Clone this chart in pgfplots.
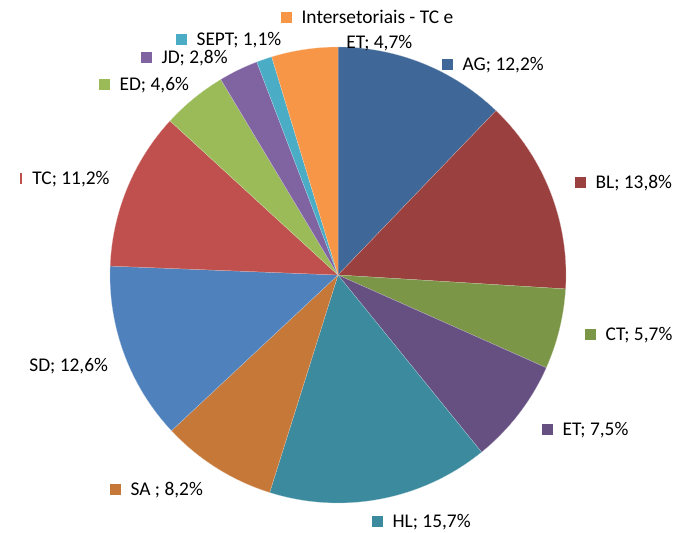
\documentclass[border=0pt]{standalone}
\usepackage{pgfplots}
\usepackage{pgfplotstable}
\pgfplotsset{compat=1.18}
\usepackage{fontspec}
\setmainfont{Carlito}

\definecolor{cAG}{RGB}{63,103,151}
\definecolor{cBL}{RGB}{154,64,62}
\definecolor{cCT}{RGB}{124,150,71}
\definecolor{cET}{RGB}{102,80,130}
\definecolor{cHL}{RGB}{60,138,158}
\definecolor{cSA}{RGB}{198,120,56}
\definecolor{cSD}{RGB}{79,129,189}
\definecolor{cTC}{RGB}{192,80,77}
\definecolor{cED}{RGB}{155,187,89}
\definecolor{cJD}{RGB}{128,100,162}
\definecolor{cSEPT}{RGB}{75,172,198}
\definecolor{cINT}{RGB}{247,150,70}

% share of each sector, clockwise from 12 o'clock
\pgfplotstableread[col sep=comma]{
name,value,color
AG,12.2,cAG
BL,13.8,cBL
CT,5.7,cCT
ET,7.5,cET
HL,15.7,cHL
SA,8.2,cSA
SD,12.6,cSD
TC,11.2,cTC
ED,4.6,cED
JD,2.8,cJD
SEPT,1.1,cSEPT
INT,4.7,cINT
}\piedata

\newcommand{\lab}[4]{\node[anchor=base west,inner sep=0pt] at (axis cs:#1,#2)
  {\textcolor{#3}{\rule[0.4pt]{5.5pt}{5.5pt}}\hspace{4.6pt}#4};}

\begin{document}
\begin{tikzpicture}[font=\fontsize{9.7}{11}\selectfont]
\begin{axis}[
    x=0.5pt, y=0.5pt,
    xmin=0, xmax=675, ymin=0, ymax=533,
    y dir=reverse,
    scale only axis,
    hide axis,
    clip=false,
]
  \path (axis cs:0,0) rectangle (axis cs:675,533);
  \def\astart{90}
  \pgfplotsforeachungrouped \i in {0,...,11}{
    \pgfplotstablegetelem{\i}{value}\of\piedata \let\v\pgfplotsretval
    \pgfplotstablegetelem{\i}{color}\of\piedata \let\c\pgfplotsretval
    \pgfmathsetmacro{\aend}{\astart-360*\v/100.1}
    \edef\temp{\noexpand\fill[\c,draw=white!60!\c,line width=0.1pt]
      (axis cs:338,275) -- ++(\astart:114pt)
      arc[start angle=\astart,end angle=\aend,radius=114pt] -- cycle;}
    \temp
    \global\let\astart\aend
  }

  % data labels
  \lab{281}{24}{cINT}{Intersetoriais - TC e}
  \node[anchor=base west,inner sep=0pt] at (axis cs:346,49) {ET; 4,7\%};
  \lab{176}{46}{cSEPT}{SEPT; 1,1\%}
  \lab{141}{64}{cJD}{JD; 2,8\%}
  \lab{99}{91}{cED}{ED; 4,6\%}
  \lab{442}{71}{cAG}{AG; 12,2\%}
  \lab{575}{189}{cBL}{BL; 13,8\%}
  \lab{585}{341}{cCT}{CT; 5,7\%}
  \lab{542}{436}{cET}{ET; 7,5\%}
  \lab{372}{528}{cHL}{HL; 15,7\%}
  \lab{110}{496}{cSA}{SA ; 8,2\%}
  \node[anchor=base west,inner sep=0pt] at (axis cs:29,372) {SD; 12,6\%};
  \node[anchor=base west,inner sep=0pt] at (axis cs:20,185)
    {\textcolor{cTC}{\rule[0.4pt]{1pt}{5.5pt}}\hspace{5pt}TC; 11,2\%};
\end{axis}
\end{tikzpicture}
\end{document}
